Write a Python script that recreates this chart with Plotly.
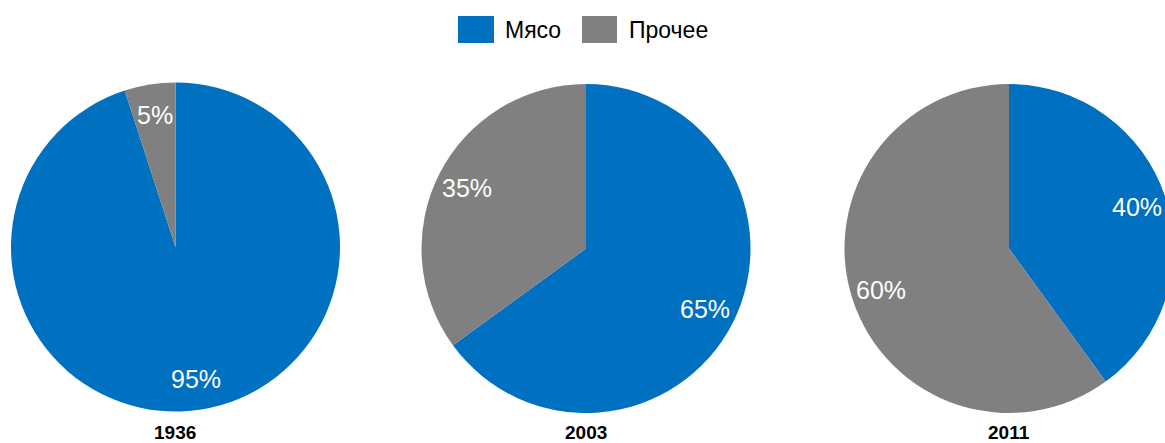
import math
import plotly.graph_objects as go

categories = ["Мясо", "Прочее"]
years = ["1936", "2003", "2011"]
values_1936 = [95, 5]
values_2003 = [65, 35]
values_2011 = [40, 60]
colors = ["#0070C0", "#808080"]

W, H = 1180, 443
# pie centers (px from left/top) and radius
centers = [(175.5, 247), (586, 248.5), (1009, 248.5)]
R = 164.5
LABEL_RF = 0.815
FONT = "Liberation Sans, Arial, sans-serif"

fig = go.Figure()
annotations = []
for vals, (cx, cy) in zip([values_1936, values_2003, values_2011], centers):
    yb = H - cy
    fig.add_trace(go.Pie(
        labels=categories, values=vals, sort=False, direction="clockwise", rotation=0,
        marker=dict(colors=colors, line=dict(width=0)),
        textinfo="none",
        domain=dict(x=[(cx - R) / W, (cx + R) / W], y=[(yb - R) / H, (yb + R) / H]),
        showlegend=False, hoverinfo="label+percent",
    ))
    total = sum(vals)
    cum = 0
    for v in vals:
        mid = (cum + v / 2) / total * 2 * math.pi
        cum += v
        lx = cx + LABEL_RF * R * math.sin(mid)
        ly = cy - LABEL_RF * R * math.cos(mid)
        annotations.append(dict(x=lx / W, y=(H - ly) / H, xref="paper", yref="paper",
                                text=f"{v}%", showarrow=False, xanchor="center", yanchor="middle",
                                font=dict(family=FONT, size=25, color="white")))

for yr, (cx, cy) in zip(years, centers):
    annotations.append(dict(x=cx / W, y=(H - 432.5) / H, xref="paper", yref="paper",
                            text=f"<b>{yr}</b>", showarrow=False,
                            font=dict(family=FONT, size=19, color="black"),
                            xanchor="center", yanchor="middle"))

# legend swatches
legend_items = [(458, 494, 503), (582, 617, 627)]
shapes = []
for (x0, x1, tx), name, col in zip(legend_items, categories, colors):
    shapes.append(dict(type="rect", xref="paper", yref="paper",
                       x0=x0 / W, x1=x1 / W, y0=(H - 43) / H, y1=(H - 16) / H,
                       fillcolor=col, line=dict(width=0)))
    annotations.append(dict(x=tx / W, y=(H - 30) / H, xref="paper", yref="paper",
                            text=name, showarrow=False, xanchor="left", yanchor="middle",
                            font=dict(family=FONT, size=23, color="black")))

fig.update_layout(
    width=W, height=H, margin=dict(l=0, r=0, t=0, b=0),
    paper_bgcolor="white", plot_bgcolor="white",
    annotations=annotations, shapes=shapes, showlegend=False,
)

fig.write_html("out.html", config={"displayModeBar": False},
               post_script="document.body.style.margin='0';document.body.style.overflow='hidden';")
